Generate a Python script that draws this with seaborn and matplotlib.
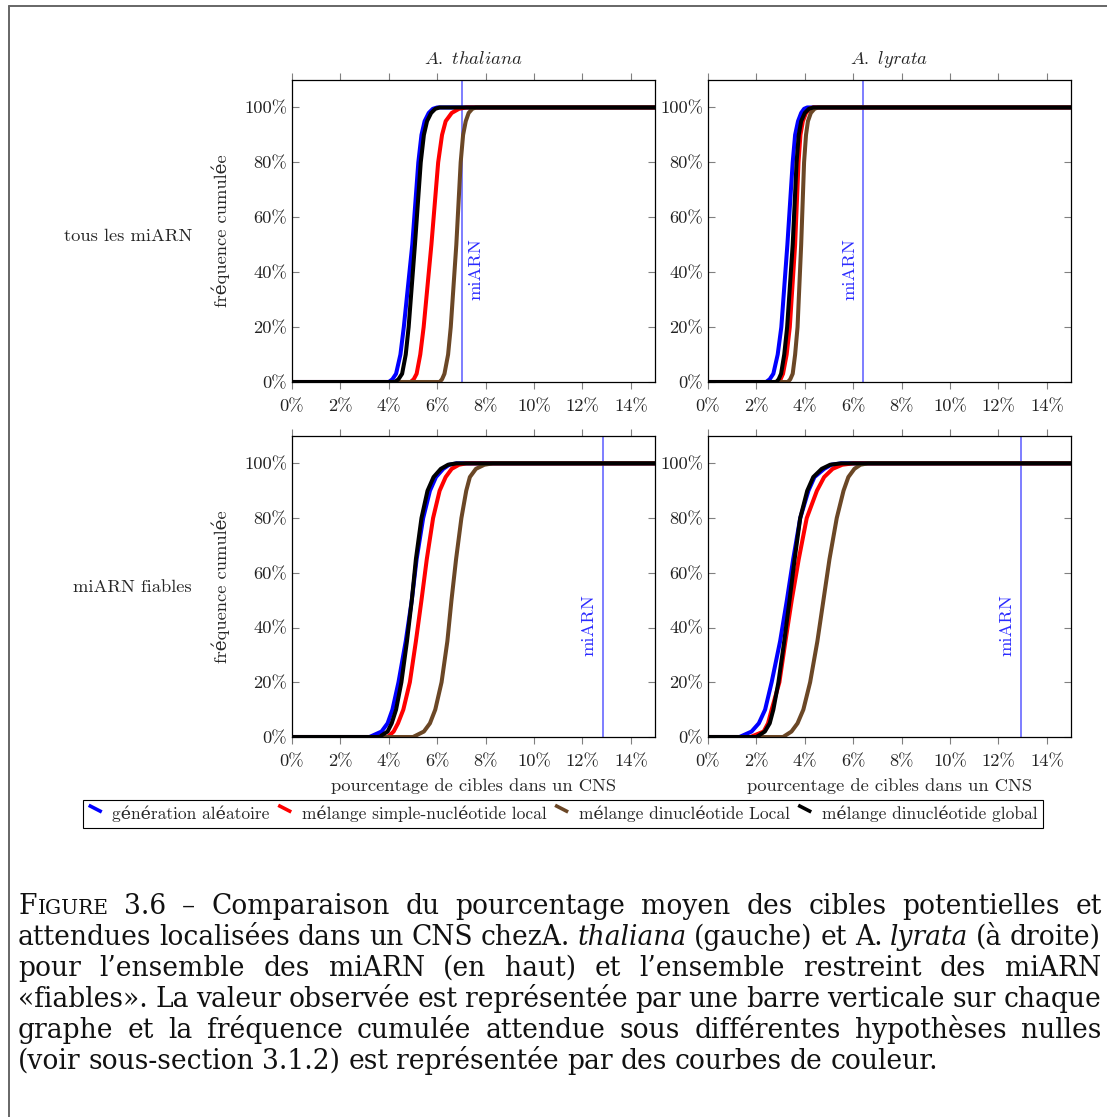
import numpy as np
import pandas as pd
import matplotlib
matplotlib.use("Agg")
import matplotlib.pyplot as plt
import seaborn as sns
from matplotlib.lines import Line2D
from matplotlib.legend_handler import HandlerLine2D

# ---------------- data ----------------
series_names = ["génération aléatoire", "mélange simple-nucléotide local",
                "mélange dinucléotide Local", "mélange dinucléotide global"]
series_colors = ["#0000ff", "#ff0000", "#6b4726", "#000000"]
species_titles = ["A.\\ thaliana", "A.\\ lyrata"]
row_labels = ["tous les miARN", "miARN fiables"]
x_ticks = [0, 2, 4, 6, 8, 10, 12, 14]
x_tick_labels = ["0%", "2%", "4%", "6%", "8%", "10%", "12%", "14%"]
y_ticks = [0.0, 0.2, 0.4, 0.6, 0.8, 1.0]
y_tick_labels = ["0%", "20%", "40%", "60%", "80%", "100%"]

# cumulative-frequency levels at which the curves were read (x in %)
levels_all = [0.0, 0.0, 0.01, 0.03, 0.10, 0.20, 0.50, 0.80, 0.90, 0.95, 0.98, 0.995, 1.0, 1.0]
levels_fiables = [0.0, 0.0, 0.02, 0.05, 0.10, 0.20, 0.35, 0.50, 0.65, 0.80,
                  0.90, 0.95, 0.98, 0.995, 1.0, 1.0]

thaliana_all_alea = [0, 4.00, 4.15, 4.30, 4.48, 4.62, 4.97, 5.22, 5.35, 5.48, 5.65, 5.82, 6.00, 15]
thaliana_all_simple = [0, 4.90, 5.03, 5.15, 5.30, 5.44, 5.76, 6.04, 6.20, 6.35, 6.60, 6.90, 7.20, 15]
thaliana_all_dinloc = [0, 6.10, 6.20, 6.30, 6.45, 6.56, 6.79, 6.97, 7.07, 7.18, 7.30, 7.45, 7.60, 15]
thaliana_all_dinglob = [0, 4.25, 4.40, 4.55, 4.70, 4.82, 5.08, 5.32, 5.45, 5.58, 5.75, 5.92, 6.10, 15]

lyrata_all_alea = [0, 2.40, 2.55, 2.70, 2.88, 3.03, 3.28, 3.50, 3.60, 3.72, 3.85, 3.97, 4.10, 15]
lyrata_all_simple = [0, 2.90, 3.00, 3.10, 3.25, 3.38, 3.60, 3.74, 3.82, 3.92, 4.05, 4.20, 4.35, 15]
lyrata_all_dinloc = [0, 3.30, 3.40, 3.50, 3.60, 3.70, 3.85, 3.97, 4.05, 4.13, 4.25, 4.40, 4.55, 15]
lyrata_all_dinglob = [0, 2.82, 2.92, 3.02, 3.15, 3.27, 3.50, 3.66, 3.75, 3.85, 4.00, 4.17, 4.35, 15]

thaliana_fia_alea = [0, 3.20, 3.70, 3.95, 4.15, 4.40, 4.70, 4.95, 5.15, 5.42, 5.70, 5.95, 6.25, 6.50, 6.80, 15]
thaliana_fia_simple = [0, 3.95, 4.20, 4.38, 4.60, 4.87, 5.12, 5.35, 5.57, 5.83, 6.10, 6.35, 6.60, 6.90, 7.20, 15]
thaliana_fia_dinloc = [0, 5.00, 5.45, 5.70, 5.92, 6.18, 6.42, 6.59, 6.78, 7.00, 7.20, 7.35, 7.60, 7.95, 8.30, 15]
thaliana_fia_dinglob = [0, 3.60, 3.95, 4.12, 4.30, 4.52, 4.75, 4.95, 5.12, 5.35, 5.60, 5.85, 6.15, 6.45, 6.80, 15]

lyrata_fia_alea = [0, 1.30, 1.80, 2.10, 2.36, 2.63, 2.98, 3.26, 3.52, 3.81, 4.15, 4.40, 4.80, 5.10, 5.50, 15]
lyrata_fia_simple = [0, 1.75, 2.30, 2.48, 2.63, 2.95, 3.20, 3.46, 3.75, 4.08, 4.50, 4.80, 5.15, 5.55, 6.00, 15]
lyrata_fia_dinloc = [0, 3.10, 3.45, 3.70, 3.94, 4.22, 4.52, 4.77, 5.02, 5.32, 5.60, 5.80, 6.05, 6.30, 6.60, 15]
lyrata_fia_dinglob = [0, 2.00, 2.35, 2.55, 2.70, 2.91, 3.15, 3.37, 3.58, 3.81, 4.10, 4.35, 4.70, 5.05, 5.50, 15]

observed_all = [7.02, 6.42]       # observed miARN value (thaliana, lyrata)
observed_fiables = [12.85, 12.93]

caption_lines = [
    "Figure 3.6 – Comparaison du pourcentage moyen des cibles potentielles et",
    "attendues localisées dans un CNS chezA. thaliana (gauche) et A. lyrata (à droite)",
    "pour l’ensemble des miARN (en haut) et l’ensemble restreint des miARN",
    "«fiables». La valeur observée est représentée par une barre verticale sur chaque",
    "graphe et la fréquence cumulée attendue sous différentes hypothèses nulles",
    "(voir sous-section 3.1.2) est représentée par des courbes de couleur.",
]
italic_words = ["thaliana", "lyrata"]

panels = {
    (0, 0): (levels_all, [thaliana_all_alea, thaliana_all_simple, thaliana_all_dinloc, thaliana_all_dinglob]),
    (0, 1): (levels_all, [lyrata_all_alea, lyrata_all_simple, lyrata_all_dinloc, lyrata_all_dinglob]),
    (1, 0): (levels_fiables, [thaliana_fia_alea, thaliana_fia_simple, thaliana_fia_dinloc, thaliana_fia_dinglob]),
    (1, 1): (levels_fiables, [lyrata_fia_alea, lyrata_fia_simple, lyrata_fia_dinloc, lyrata_fia_dinglob]),
}
observed = {(0, 0): observed_all[0], (0, 1): observed_all[1],
            (1, 0): observed_fiables[0], (1, 1): observed_fiables[1]}

records = []
for (r, c), (lv, xs_list) in panels.items():
    for name, xs in zip(series_names, xs_list):
        for xv, yv in zip(xs, lv):
            records.append({"row": r, "col": c, "serie": name, "x": xv, "y": yv})
df = pd.DataFrame(records)

# ---------------- style ----------------
sns.set_theme(style="white")
plt.rcParams["font.family"] = ["cmr10", "DejaVu Serif"]
plt.rcParams["axes.unicode_minus"] = False

W, H = 1107, 1117
fig = plt.figure(figsize=(W / 100, H / 100), dpi=100)
fig.patch.set_facecolor("white")

FS = 13.3
ax_pos = {(0, 0): (292, 80, 655, 382), (0, 1): (708, 80, 1071, 382),
          (1, 0): (292, 436, 655, 737), (1, 1): (708, 436, 1071, 737)}
label_side = {(0, 0): 1, (0, 1): -1, (1, 0): -1, (1, 1): -1}

for (r, c), (x0, y0, x1, y1) in ax_pos.items():
    ax = fig.add_axes([x0 / W, 1 - y1 / H, (x1 - x0) / W, (y1 - y0) / H])
    sub = df[(df["row"] == r) & (df["col"] == c)]
    sns.lineplot(data=sub, x="x", y="y", hue="serie", hue_order=series_names,
                 palette=series_colors, sort=False, estimator=None,
                 linewidth=2.9, legend=False, ax=ax)
    obs = observed[(r, c)]
    ax.axvline(obs, color="#5a5aff", lw=1.1, zorder=1)
    s = label_side[(r, c)]
    ax.annotate("miARN", xy=(obs, 0.41), xycoords="data",
                xytext=(4.5 * s, 0), textcoords="offset points",
                rotation=90, ha="left" if s > 0 else "right", va="center",
                color="#2b2bff", fontsize=FS)
    ax.set_xlim(0, 15)
    ax.set_ylim(0, 1.1)
    ax.set_xticks(x_ticks)
    ax.set_xticklabels(x_tick_labels)
    ax.set_yticks(y_ticks)
    ax.set_yticklabels(y_tick_labels)
    ax.tick_params(axis="x", direction="out", top=True, bottom=True, length=5,
                   width=0.8, color="#808080", pad=7.5, labelsize=FS, labelcolor="#222222")
    ax.tick_params(axis="y", direction="in", left=True, right=True, length=5,
                   width=0.8, color="#808080", pad=3.5, labelsize=FS, labelcolor="#222222")
    for sp in ax.spines.values():
        sp.set_color("black")
        sp.set_linewidth(0.9)
    ax.set_xlabel("")
    ax.set_ylabel("")
    if r == 0:
        ax.set_title(r"$\mathit{" + species_titles[c] + "}$", fontsize=FS,
                     pad=11.5, math_fontfamily="cm")
    if c == 0:
        ax.set_ylabel("fréquence cumulée", fontsize=FS)
        ax.yaxis.set_label_coords(-0.172, 0.5)
        fig.text(192 / W, 1 - (236 + 351 * r) / H, row_labels[r], ha="right",
                 va="center", fontsize=FS)
    if r == 1:
        ax.set_xlabel("pourcentage de cibles dans un CNS", fontsize=FS)
        ax.xaxis.set_label_coords(0.5, -0.137)


# ---------------- legend ----------------
class SlashHandler(HandlerLine2D):
    def create_artists(self, legend, orig_handle, xdescent, ydescent, width,
                       height, fontsize, trans):
        x0, y0 = -xdescent, -ydescent
        ln = Line2D([x0, x0 + width], [y0 + height * 1.15, y0 + height * 0.6],
                    color=orig_handle.get_color(), lw=orig_handle.get_linewidth(),
                    solid_capstyle="butt", transform=trans)
        return [ln]


handles = [Line2D([], [], color=col, lw=2.6) for col in series_colors]
leg = fig.legend(handles, series_names, loc="center",
                 bbox_to_anchor=(563 / W, 1 - 814 / H), ncol=4, fontsize=12.5,
                 frameon=True, fancybox=False, edgecolor="black", framealpha=1,
                 handlelength=0.75, handletextpad=0.6, columnspacing=0.5,
                 borderpad=0.35, handler_map={Line2D: SlashHandler()})
leg.get_frame().set_linewidth(0.8)

# ---------------- page frame ----------------
fig.add_artist(Line2D([8.5 / W, 8.5 / W], [0, 1 - 5.5 / H], transform=fig.transFigure,
                      color="#666666", lw=1.4))
fig.add_artist(Line2D([8.5 / W, 1], [1 - 5.5 / H, 1 - 5.5 / H], transform=fig.transFigure,
                      color="#666666", lw=1.4))

# ---------------- caption (justified, small caps, italics) ----------------
renderer = fig.canvas.get_renderer()
baselines = [914, 945, 976, 1007, 1038, 1069]
x_left, x_right = 18, 1101
base_kw = dict(family="DejaVu Serif", color="#111111", va="baseline", ha="left")


def word_pieces(w, size):
    if w == "Figure":
        return [("F", size, "normal"), ("IGURE", size * 0.76, "normal")]
    if w in italic_words:
        return [(w, size, "italic")]
    return [(w, size, "normal")]


def measure(txt, size, style):
    t = fig.text(0, 0, txt, fontsize=size, style=style, **base_kw)
    wpx = t.get_window_extent(renderer).width
    t.remove()
    return wpx


def line_layout(line, size):
    toks = [word_pieces(w, size) for w in line.split(" ")]
    widths = [[measure(t, s, st) for (t, s, st) in tk] for tk in toks]
    return toks, widths


CFS = 20.0
space_px = 0.30 * CFS * 100 / 72
natural = []
for line in caption_lines:
    toks, widths = line_layout(line, CFS)
    natural.append(sum(sum(wl) for wl in widths) + space_px * (len(toks) - 1))
scale = min(1.0, (x_right - x_left) / max(natural))
CFS = CFS * scale
space_px = 0.30 * CFS * 100 / 72

for i, (yb, line) in enumerate(zip(baselines, caption_lines)):
    toks, widths = line_layout(line, CFS)
    total = sum(sum(wl) for wl in widths)
    if i < len(caption_lines) - 1:
        gap = (x_right - x_left - total) / (len(toks) - 1)
    else:
        gap = space_px
    x = x_left
    for tk, wl in zip(toks, widths):
        for (t, s, st), wpx in zip(tk, wl):
            fig.text(x / W, 1 - yb / H, t, fontsize=s, style=st, **base_kw)
            x += wpx + (1 if t == "F" else 0)
        x += gap

fig.savefig("out.png", dpi=100, facecolor="white")
